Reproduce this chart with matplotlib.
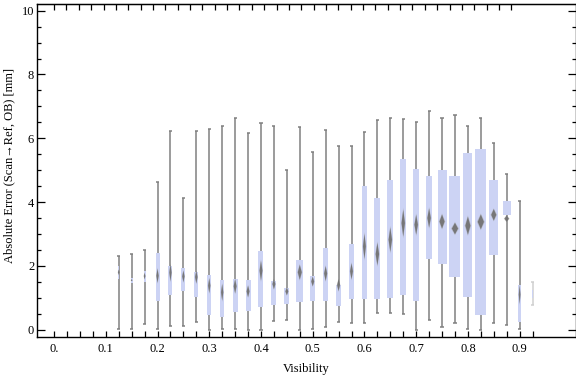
import matplotlib.pyplot as plt
import numpy as np

plt.rcParams['font.family'] = ['Liberation Serif', 'DejaVu Serif']

# box-whisker data per visibility bin
visibility = [0.125, 0.15, 0.175, 0.2, 0.225, 0.25, 0.275, 0.3, 0.325, 0.35, 0.375,
              0.4, 0.425, 0.45, 0.475, 0.5, 0.525, 0.55, 0.575, 0.6, 0.625, 0.65,
              0.675, 0.7, 0.725, 0.75, 0.775, 0.8, 0.825, 0.85, 0.875, 0.9, 0.925]
whisker_lo = [0.03, 0.03, 0.18, 0.02, 0.10, 0.10, 0.24, 0.00, 0.03, 0.03, 0.00,
              0.00, 0.28, 0.31, 0.00, 0.03, 0.08, 0.25, 0.22, 0.22, 0.52, 0.52,
              0.49, 0.00, 0.31, 0.08, 0.22, 0.03, 0.00, 0.22, 0.16, 0.03, 0.76]
whisker_hi = [2.32, 2.38, 2.51, 4.63, 6.24, 4.13, 6.24, 6.29, 6.39, 6.63, 6.16,
              6.48, 6.39, 5.00, 6.36, 5.57, 6.26, 5.76, 5.76, 6.20, 6.57, 6.63,
              6.60, 6.51, 6.85, 6.63, 6.73, 6.38, 6.63, 5.85, 4.88, 4.04, 1.48]
q1 = [1.60, 1.47, 1.50, 0.91, 1.10, 1.22, 1.03, 0.45, 0.39, 0.54, 0.58,
      0.70, 0.76, 0.82, 0.86, 0.89, 0.89, 0.73, 0.96, 0.95, 0.95, 0.98,
      1.08, 0.89, 2.20, 2.05, 1.64, 1.01, 0.45, 2.33, 3.61, 0.23, 0.99]
q3 = [2.00, 1.63, 1.85, 2.40, 2.00, 1.94, 1.82, 1.72, 1.57, 1.60, 1.57,
      2.48, 1.54, 1.32, 2.19, 1.67, 2.57, 1.41, 2.70, 4.51, 4.14, 4.70,
      5.36, 5.05, 4.83, 5.02, 4.83, 5.55, 5.67, 4.70, 4.04, 1.41, 1.23]
median = [1.80, 1.55, 1.68, 1.69, 1.79, 1.67, 1.65, 1.38, 1.17, 1.36, 1.20,
          1.85, 1.43, 1.20, 1.80, 1.51, 1.76, 1.40, 1.83, 2.61, 2.37, 2.82,
          3.34, 3.29, 3.50, 3.39, 3.17, 3.26, 3.38, 3.60, 3.48, 1.10, 1.10]
# half height of the median diamond (confidence notch)
notch = [0.08, 0.03, 0.10, 0.22, 0.27, 0.18, 0.20, 0.23, 0.26, 0.22, 0.18,
         0.31, 0.16, 0.12, 0.23, 0.15, 0.23, 0.19, 0.25, 0.39, 0.35, 0.38,
         0.42, 0.31, 0.30, 0.22, 0.18, 0.28, 0.23, 0.18, 0.10, 0.29, 0.00]
# box widths (x units)
box_w = [0.0029, 0.0039, 0.0039, 0.0077, 0.0077, 0.0077, 0.0083, 0.0077, 0.0077,
         0.0097, 0.0097, 0.0097, 0.0097, 0.0097, 0.0135, 0.0097, 0.0102, 0.0097,
         0.0097, 0.0097, 0.0116, 0.0116, 0.0116, 0.0116, 0.0116, 0.0174, 0.0212,
         0.0174, 0.0212, 0.0174, 0.0154, 0.0058, 0.0029]

box_color = '#ccd3f4'
line_color = '#808080'
med_color = '#6f6f6f'

fig = plt.figure(figsize=(5.76, 3.77), dpi=100)
ax = fig.add_axes([37/576, 40/377, 538.5/576, 333/377])

for x, lo, hi, a, b, m, n, w in zip(visibility, whisker_lo, whisker_hi, q1, q3, median, notch, box_w):
    # very small groups get faint whiskers
    lc = line_color if w > 0.003 or x < 0.5 else '#cfcfcf'
    ax.vlines(x, lo, hi, color=lc, lw=1.1, zorder=1)
    ax.hlines([lo, hi], x - 0.003, x + 0.003, color=lc, lw=1.1, zorder=1)
    ax.bar(x, b - a, bottom=a, width=w, color=box_color, lw=0, zorder=2)
    dw = max(w * 0.28, 0.0015)
    if n > 0:
        ax.fill([x - dw * 1.3, x, x + dw * 1.3, x], [m, m + n * 1.15, m, m - n * 1.15],
                color='#a0a0a0', alpha=0.5, lw=0, zorder=3)
        ax.fill([x - dw, x, x + dw, x], [m, m + n, m, m - n],
                color=med_color, alpha=0.9, lw=0, zorder=4)

ax.set_xlim(-0.033, 1.008)
ax.set_ylim(-0.23, 10.21)

xt = np.arange(0, 0.93, 0.025)
ax.set_xticks(xt)
ax.set_xticklabels(['0.' if abs(v) < 1e-9 else ('%.1f' % v if abs(v * 10 - round(v * 10)) < 1e-6 else '')
                    for v in xt])
ax.set_yticks([0, 2, 4, 6, 8, 10])
ax.set_yticks(np.arange(0, 10.01, 0.5), minor=True)

ax.tick_params(axis='x', direction='in', length=4, width=0.9, labelsize=9, pad=4, top=False)
ax.tick_params(axis='y', which='major', direction='in', length=5.5, width=0.9, labelsize=9, pad=2, right=True)
ax.tick_params(axis='y', which='minor', direction='in', length=3, width=0.9, right=True)

top = ax.secondary_xaxis('top')
top.set_xticks(np.linspace(0, 0.884, 38))
top.tick_params(direction='in', length=4, width=0.9, labeltop=False)
top.set_xticklabels([])

for s in ax.spines.values():
    s.set_linewidth(1.0)

ax.set_xlabel('Visibility', fontsize=9, labelpad=6)
ax.set_ylabel('Absolute Error (Scan\u2192Ref, OB) [mm]', fontsize=9, labelpad=4)
ax.yaxis.set_label_coords(-0.041, 0.515)

fig.savefig('out.png', dpi=100)
